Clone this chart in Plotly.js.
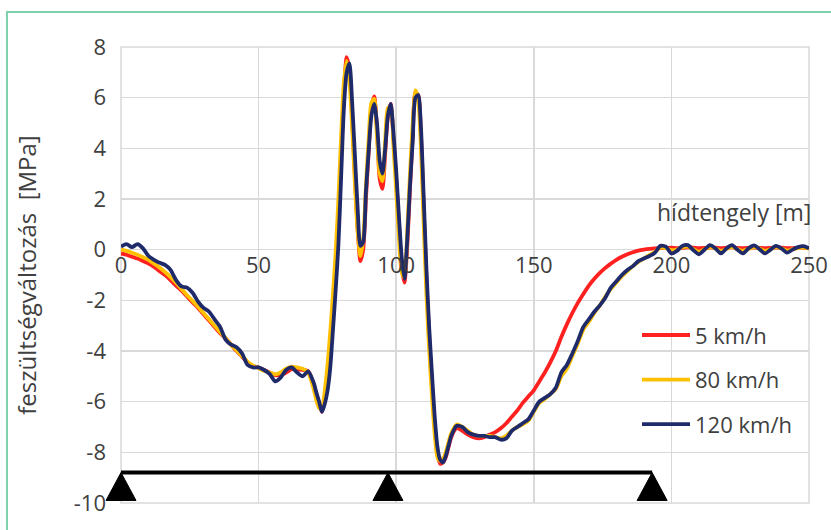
<!DOCTYPE html>
<html>
<head>
<meta charset="utf-8">
<script src="https://cdn.plot.ly/plotly-3.0.1.min.js"></script>
<style>
  html, body { margin:0; padding:0; background:#fff; }
  #wrap { position:relative; width:831px; height:530px; overflow:hidden; }
  #chart { position:absolute; left:0; top:0; width:831px; height:530px; }
  #frame { position:absolute; left:6px; top:11px; width:840px; height:540px;
           border-left:2px solid #7fd1ad; border-top:2px solid #7fd1ad; pointer-events:none; }
</style>
</head>
<body>
<div id="wrap"><div id="chart"></div><div id="frame"></div></div>
<script>
// bridge axis position [m]
const distance = [0,2,4,6,8,10,12,14,16,18,20,22,24,26,28,30,32,34,36,38,40,42,44,46,48,50,52,54,56,58,60,62,64,66,68,70,
  71,72,73,74,75,76,77,78,79,80,81,82,83,84,85,86,87,88,89,90,91,92,93,94,95,96,97,98,99,100,
  101,102,103,104,105,106,107,108,109,110,111,112,113,114,115,116,117,118,119,120,
  122,124,126,128,130,132,134,136,138,140,142,144,146,148,150,152,154,156,158,160,
  162,164,166,168,170,172,174,176,178,180,182,184,186,188,190,192,194,196,198,200,
  202,204,206,208,210,212,214,216,218,220,222,224,226,228,230,232,234,236,238,240,
  242,244,246,248,250];

// stress change [MPa] at 5 km/h
const stress5 = [-0.15,-0.2,-0.28,-0.35,-0.45,-0.55,-0.68,-0.85,-1.0,-1.2,-1.42,-1.62,-1.85,-2.08,-2.3,-2.55,-2.8,-3.05,-3.3,-3.5,-3.75,-4.0,-4.22,-4.45,-4.6,-4.65,-4.75,-4.85,-4.95,-4.95,-4.85,-4.72,-4.72,-4.75,-4.8,-5.3,
  -5.7,-6.05,-6.4,-6.0,-5.3,-4.2,-2.6,-0.9,1.1,3.7,
  6.2,7.6,7.1,5.2,2.9,0.8,-0.45,0.0,2.0,3.9,
  5.6,6.05,4.8,2.8,2.4,3.8,5.3,5.75,4.4,2.8,
  1.0,-0.7,-1.3,0.1,2.4,4.5,6.2,6.1,4.5,1.6,
  -1.2,-3.5,-5.3,-7.0,-8.1,-8.45,-8.4,-8.2,-7.8,-7.4,
  -7.05,-7.15,-7.3,-7.4,-7.45,-7.4,-7.3,-7.2,-7.05,-6.85,
  -6.6,-6.35,-6.05,-5.8,-5.55,-5.2,-4.85,-4.45,-4.0,-3.45,
  -2.95,-2.5,-2.1,-1.75,-1.42,-1.15,-0.92,-0.72,-0.55,-0.4,
  -0.28,-0.18,-0.1,-0.04,0.0,0.03,0.05,0.06,0.07,0.08,
  0.06,0.07,0.09,0.08,0.06,0.07,0.08,0.08,0.06,0.08,
  0.09,0.07,0.06,0.07,0.08,0.07,0.06,0.07,0.08,0.08,
  0.06,0.06,0.07,0.07,0.06];

// stress change [MPa] at 80 km/h
const stress80 = [0.0,-0.05,-0.12,-0.2,-0.3,-0.4,-0.55,-0.7,-0.88,-1.08,-1.3,-1.55,-1.8,-2.02,-2.25,-2.5,-2.75,-3.0,-3.25,-3.5,-3.75,-3.98,-4.2,-4.42,-4.58,-4.68,-4.78,-4.85,-4.92,-4.85,-4.7,-4.62,-4.65,-4.7,-4.85,-5.5,
  -5.95,-6.25,-6.25,-5.6,-4.6,-3.3,-1.8,-0.1,2.0,4.5,
  6.6,7.45,6.7,4.8,2.6,0.7,-0.25,0.4,2.5,4.4,
  5.8,5.95,4.5,3.0,2.7,4.3,5.6,5.6,4.1,2.3,
  0.5,-0.9,-1.1,0.7,3.0,5.0,6.3,5.9,4.0,1.0,
  -1.8,-4.0,-5.8,-7.3,-8.2,-8.35,-8.25,-8.0,-7.6,-7.25,
  -6.9,-7.0,-7.15,-7.3,-7.35,-7.35,-7.35,-7.4,-7.45,-7.35,
  -7.15,-7.0,-6.9,-6.75,-6.4,-6.05,-5.9,-5.7,-5.5,-5.0,
  -4.7,-4.2,-3.7,-3.15,-2.85,-2.5,-2.2,-1.85,-1.55,-1.3,
  -1.05,-0.85,-0.65,-0.48,-0.35,-0.22,-0.08,0.08,0.06,-0.02,
  0.0,0.1,0.12,0.02,-0.08,0.02,0.1,0.05,-0.05,0.03,
  0.1,0.02,-0.05,0.03,0.1,0.04,-0.05,0.02,0.1,0.05,
  -0.04,0.02,0.06,0.08,0.04];

// stress change [MPa] at 120 km/h
const stress120 = [0.12,0.22,0.1,0.22,0.05,-0.25,-0.4,-0.52,-0.6,-0.8,-1.2,-1.45,-1.5,-1.7,-2.05,-2.3,-2.45,-2.75,-3.05,-3.55,-3.75,-3.85,-4.1,-4.55,-4.65,-4.65,-4.75,-4.9,-5.2,-5.05,-4.75,-4.65,-4.85,-5.0,-4.8,-5.25,
  -5.65,-6.0,-6.4,-6.1,-5.6,-4.7,-3.2,-1.6,0.2,2.9,
  5.6,7.0,7.35,5.8,3.7,1.6,0.15,0.3,2.3,3.9,
  5.3,5.75,5.0,3.5,3.0,4.0,5.3,5.75,4.6,3.1,
  1.3,-0.3,-1.15,0.4,2.5,4.3,6.0,6.1,4.8,2.05,
  -0.8,-3.1,-4.9,-6.6,-7.8,-8.3,-8.4,-8.15,-7.75,-7.35,
  -6.95,-7.0,-7.2,-7.3,-7.35,-7.35,-7.4,-7.4,-7.5,-7.45,
  -7.15,-7.0,-6.85,-6.7,-6.35,-6.0,-5.85,-5.7,-5.45,-4.85,
  -4.55,-4.1,-3.6,-3.05,-2.75,-2.45,-2.2,-1.9,-1.5,-1.25,
  -1.0,-0.8,-0.65,-0.45,-0.35,-0.25,-0.12,0.15,0.12,-0.15,
  -0.05,0.15,0.18,-0.02,-0.18,0.0,0.18,0.05,-0.15,0.05,
  0.18,0.0,-0.15,0.05,0.17,0.02,-0.15,0.0,0.15,0.05,
  -0.12,0.0,0.1,0.14,0.05];

const seriesNames = ['5 km/h', '80 km/h', '120 km/h'];
const xTicks = [0, 50, 100, 150, 200, 250];
const yTicks = [-10, -8, -6, -4, -2, 0, 2, 4, 6, 8];
const supportPositions = [0, 97, 193];
const beamLevel = -8.8;
const supportBase = -9.9;

const colors = ['#ff2020', '#ffc000', '#1f2a6b'];
const fontFam = 'Open Sans, sans-serif';
const textColor = '#404040';
const xRange = [0, 250];
const yRange = [-10, 8];

const allSeries = [stress5, stress80, stress120];
const traces = allSeries.map((s, i) => ({
  x: distance, y: s, type: 'scatter', mode: 'lines', name: seriesNames[i],
  legendgroup: 'g' + i,
  line: { color: colors[i], width: 3.8, shape: 'spline', smoothing: 0.7 }
}));

// supports: beam line + triangles
const shapes = [];
shapes.push({ type: 'line', xref: 'x', yref: 'y',
  x0: supportPositions[0], x1: supportPositions[supportPositions.length - 1],
  y0: beamLevel, y1: beamLevel, line: { color: '#000', width: 4 }, layer: 'above' });
const halfW = 15 / 688; // paper units
supportPositions.forEach(p => {
  const xp = (p - xRange[0]) / (xRange[1] - xRange[0]);
  shapes.push({ type: 'path', xref: 'paper', yref: 'y',
    path: `M ${xp - halfW} ${supportBase} L ${xp} ${beamLevel} L ${xp + halfW} ${supportBase} Z`,
    fillcolor: '#000', line: { color: '#000', width: 1 }, layer: 'above' });
});
// plot border
shapes.push({ type: 'rect', xref: 'paper', yref: 'paper', x0: 0, x1: 1, y0: 0, y1: 1,
  line: { color: '#d9d9d9', width: 1.5 }, layer: 'below' });

const layout = {
  width: 831, height: 530,
  margin: { l: 121, r: 22, t: 47, b: 27 },
  paper_bgcolor: '#fff', plot_bgcolor: '#fff',
  font: { family: fontFam, color: textColor, size: 22 },
  showlegend: true,
  legend: { x: 0.75, y: 0.414, xanchor: 'left', yanchor: 'top', bgcolor: 'rgba(0,0,0,0)',
    font: { family: fontFam, size: 22, color: textColor }, tracegroupgap: 13, traceorder: 'grouped',
    itemwidth: 48 },
  xaxis: { range: xRange, tickvals: xTicks, ticktext: xTicks.map(String), anchor: 'free',
    position: (0 - yRange[0]) / (yRange[1] - yRange[0]),
    showgrid: true, gridcolor: '#d9d9d9', gridwidth: 1.5, zeroline: false, showline: false,
    ticks: '', tickfont: { family: fontFam, size: 22, color: textColor }, fixedrange: true },
  yaxis: { range: yRange, tickvals: yTicks, ticktext: yTicks.map(String),
    showgrid: true, gridcolor: '#d9d9d9', gridwidth: 1.5, zeroline: true, zerolinecolor: '#d9d9d9', zerolinewidth: 1.5,
    showline: false, ticks: '', ticklabelstandoff: 14,
    tickfont: { family: fontFam, size: 22, color: textColor },
    title: { text: 'feszültségváltozás\u00a0\u00a0[MPa]', font: { family: fontFam, size: 24, color: textColor }, standoff: 30 },
    automargin: false, fixedrange: true },
  annotations: [{ text: 'hídtengely [m]', xref: 'paper', yref: 'y', x: 1, y: 1.5,
    xanchor: 'right', yanchor: 'middle', xshift: 4, showarrow: false,
    font: { family: fontFam, size: 23, color: textColor } }],
  shapes: shapes
};

Plotly.newPlot('chart', traces, layout, { staticPlot: true, displayModeBar: false });
</script>
</body>
</html>
